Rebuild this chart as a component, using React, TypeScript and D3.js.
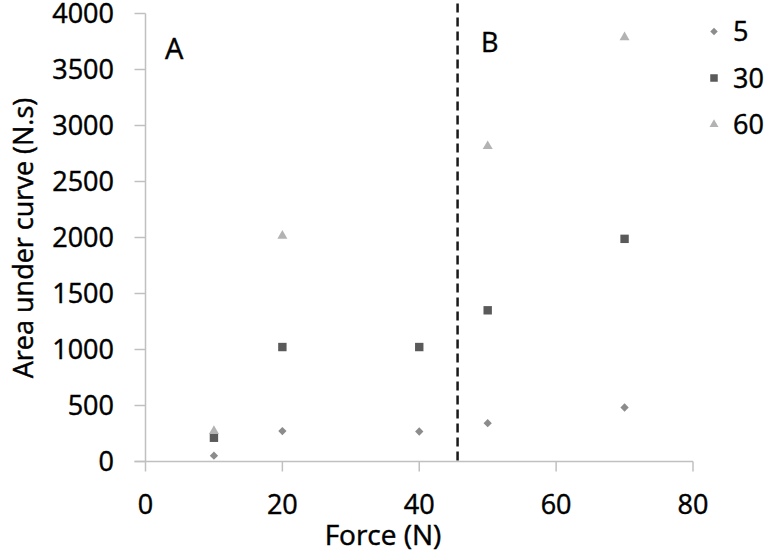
import React from "react";
import * as d3 from "d3";

const forces = [10, 20, 40, 50, 70];
const series5 = [52, 272, 268, 342, 482];
const series30 = [212, 1022, 1022, 1350, 1988];
const series60 = [272, 2015, null, 2815, 3787];
const seriesNames = ["5", "30", "60"];
const xTicks = [0, 20, 40, 60, 80];
const yTicks = [0, 500, 1000, 1500, 2000, 2500, 3000, 3500, 4000];
const dividerForce = 45.6;

const W = 774;
const H = 560;
const FONT = "'Open Sans', sans-serif";

export default function App() {
  const x = d3.scaleLinear().domain([0, 80]).range([145.5, 693]);
  const y = d3.scaleLinear().domain([0, 4000]).range([461.5, 13.5]);
  const colors = ["#8c8c8c", "#5a5a5a", "#b3b3b3"];
  const symbols = [d3.symbolDiamond2, d3.symbolSquare2, d3.symbolTriangle2];
  const sizes = [44, 90, 72];
  const sym = (i: number) => d3.symbol().type(symbols[i]).size(sizes[i])() as string;
  const allSeries = [series5, series30, series60];
  const textStyle = { fontFamily: FONT, fill: "#000", stroke: "#000", strokeWidth: 0.45 } as const;

  return (
    <div style={{ position: "absolute", left: 0, top: 0 }}>
      <svg width={W} height={H} style={{ display: "block", background: "#fff" }}>
        {/* axes */}
        <line x1={x(0)} x2={x(0)} y1={y(4000)} y2={y(0)} stroke="#c0c0c0" strokeWidth={1.5} />
        <line x1={x(0) - 11} x2={x(80)} y1={y(0)} y2={y(0)} stroke="#c0c0c0" strokeWidth={1.5} />
        {yTicks.map((t) => (
          <g key={"y" + t}>
            <line x1={x(0) - 11} x2={x(0)} y1={y(t)} y2={y(t)} stroke="#c0c0c0" strokeWidth={1.5} />
            <text x={114} y={y(t)} dy="0.36em" textAnchor="end" fontSize={27} {...textStyle}>
              {t}
            </text>
          </g>
        ))}
        {xTicks.map((t) => (
          <g key={"x" + t}>
            <line x1={x(t)} x2={x(t)} y1={y(0)} y2={y(0) + 10} stroke="#c0c0c0" strokeWidth={1.5} />
            <text x={x(t)} y={514} textAnchor="middle" fontSize={27} {...textStyle}>
              {t}
            </text>
          </g>
        ))}
        {/* divider */}
        <line x1={x(dividerForce)} x2={x(dividerForce)} y1={y(4090)} y2={y(0)} stroke="#1a1a1a" strokeWidth={2.5} strokeDasharray="9,5" />
        {/* region labels */}
        <text x={165} y={59} fontSize={29} {...textStyle}>A</text>
        <text x={481} y={52} fontSize={27} {...textStyle}>B</text>
        {/* points */}
        {allSeries.map((s, i) => (
          <g key={"s" + i} fill={colors[i]}>
            {s.map((v, j) =>
              v == null ? null : (
                <path key={j} d={sym(i)} transform={`translate(${x(forces[j])},${y(v)})`} />
              )
            )}
          </g>
        ))}
        {/* legend */}
        {seriesNames.map((n, i) => (
          <g key={"l" + i} transform={`translate(714,${31.5 + i * 46.5})`}>
            <path d={d3.symbol().type(symbols[i]).size(sizes[i] * 0.8)() as string} fill={colors[i]} />
            <text x={19} y={0} dy="0.36em" fontSize={27} {...textStyle}>{n}</text>
          </g>
        ))}
        {/* axis titles */}
        <text x={383} y={545} textAnchor="middle" fontSize={28} {...textStyle}>Force (N)</text>
        <text transform="translate(33,238) rotate(-90)" textAnchor="middle" fontSize={27} {...textStyle}>
          Area under curve (N.s)
        </text>
      </svg>
    </div>
  );
}
